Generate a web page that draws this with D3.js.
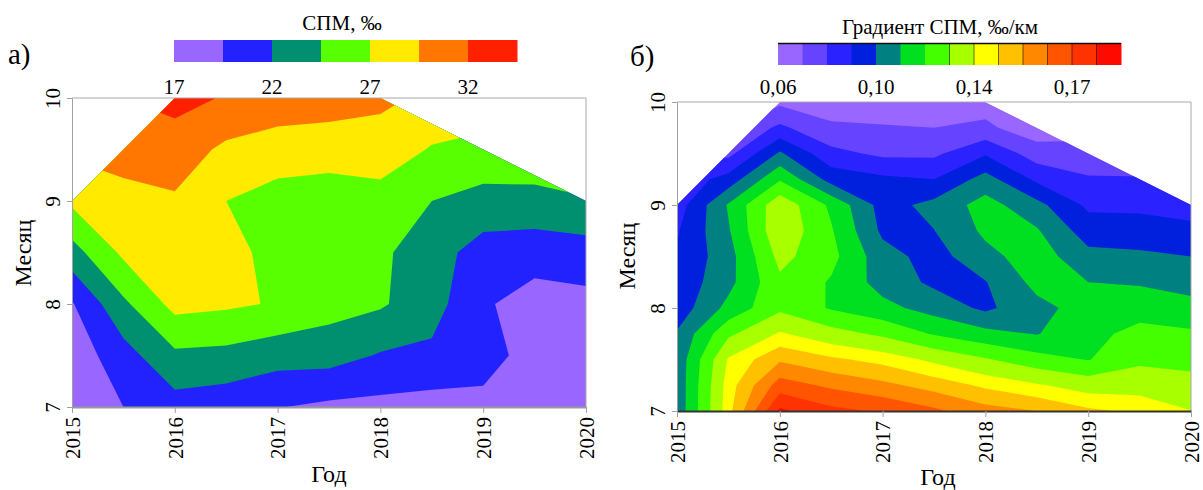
<!DOCTYPE html>
<html>
<head>
<meta charset="utf-8">
<script src="https://cdn.jsdelivr.net/npm/d3@7"></script>
<style>
  body { margin: 0; background: #fff; }
  svg { display: block; }
  text { font-family: "Liberation Serif", "Times New Roman", serif; fill: #000; }
</style>
</head>
<body>
<svg id="chart" width="1203" height="490"></svg>
<script>
// ---- shared axes ----
const gridYears = [2015, 2015.5, 2016, 2016.5, 2017, 2017.5, 2018, 2018.5, 2019, 2019.5, 2020];
const yearTicks = [2015, 2016, 2017, 2018, 2019, 2020];
const monthTicks = [7, 8, 9, 10];
// area covered by observations (year, month)
const coverage = [[2015, 7], [2015, 9], [2016, 10], [2018, 10], [2020, 9], [2020, 7]];

// ---- panel а: salinity, ‰ ----
const spmMonths = [10, 9.5, 9, 8.5, 8, 7.5, 7];
const spmGrid = [
  [31.0, 32.0, 32.8, 31.8, 31.0, 30.8, 30.0, 29.0, 28.0, 27.0, 26.0],
  [30.0, 30.5, 30.8, 29.0, 28.3, 28.0, 28.4, 26.8, 26.5, 26.0, 25.5],
  [27.5, 28.7, 29.2, 27.0, 26.0, 25.8, 26.0, 24.5, 23.5, 23.8, 24.4],
  [23.5, 27.5, 28.5, 27.8, 26.2, 26.0, 25.0, 23.0, 21.0, 20.5, 20.8],
  [19.3, 24.0, 27.8, 27.4, 26.8, 25.5, 24.8, 23.0, 19.8, 18.5, 18.8],
  [18.0, 21.0, 24.0, 23.8, 23.0, 23.0, 21.8, 21.5, 20.5, 18.5, 18.0],
  [17.5, 19.5, 21.0, 20.5, 19.6, 19.0, 18.8, 18.5, 18.8, 18.0, 17.5]
];
const spmLevels = [17, 19.5, 22, 24.5, 27, 29.5, 32, 34.5];
const spmColors = ["#9966ff", "#2222ff", "#009070", "#58ff00", "#ffea00", "#ff7700", "#ff2000"];
const spmTickIndex = [0, 2, 4, 6];

// ---- panel б: salinity gradient, ‰/км ----
const gradMonths = [10, 9.75, 9.5, 9.25, 9, 8.75, 8.5, 8.25, 8, 7.75, 7.5, 7.25, 7];
const gradGrid = [
  [0.070, 0.065, 0.068, 0.064, 0.063, 0.062, 0.066, 0.063, 0.060, 0.058, 0.055],
  [0.075, 0.070, 0.082, 0.072, 0.071, 0.070, 0.072, 0.064, 0.066, 0.064, 0.062],
  [0.080, 0.077, 0.1015, 0.083, 0.078, 0.078, 0.089, 0.075, 0.074, 0.072, 0.070],
  [0.083, 0.094, 0.119, 0.096, 0.092, 0.090, 0.104, 0.088, 0.081, 0.081, 0.078],
  [0.085, 0.111, 0.137, 0.118, 0.096, 0.103, 0.114, 0.103, 0.088, 0.088, 0.085],
  [0.089, 0.109, 0.138, 0.121, 0.098, 0.0998, 0.112, 0.111, 0.095, 0.094, 0.093],
  [0.091, 0.106, 0.133, 0.123, 0.104, 0.096, 0.107, 0.115, 0.103, 0.102, 0.100],
  [0.093, 0.107, 0.128, 0.119, 0.106, 0.098, 0.0995, 0.113, 0.110, 0.109, 0.106],
  [0.094, 0.113, 0.128, 0.119, 0.113, 0.106, 0.098, 0.107, 0.114, 0.116, 0.1135],
  [0.101, 0.128, 0.141, 0.134, 0.128, 0.119, 0.113, 0.1095, 0.117, 0.123, 0.1215],
  [0.103, 0.141, 0.154, 0.149, 0.145, 0.138, 0.131, 0.124, 0.1195, 0.128, 0.127],
  [0.103, 0.144, 0.166, 0.161, 0.157, 0.152, 0.146, 0.141, 0.136, 0.136, 0.1335],
  [0.103, 0.145, 0.179, 0.172, 0.169, 0.164, 0.158, 0.155, 0.149, 0.146, 0.1402]
];
const gradLevels = [0.06, 0.07, 0.08, 0.09, 0.10, 0.11, 0.12, 0.13, 0.14, 0.1475, 0.155, 0.1625, 0.17, 0.1775, 0.185];
const gradColors = ["#9966ff", "#6644ff", "#2a22ff", "#0020dd", "#008080", "#00e020",
                    "#44ff00", "#a8ff00", "#ffff00", "#ffc000", "#ff8800", "#ff5500", "#ff3300", "#ff0a00"];
const gradTickIndex = [0, 4, 8, 12];

const svg = d3.select("#chart");
const commaFmt = d3.formatLocale({ decimal: ",", thousands: " ", grouping: [3], currency: ["", ""] }).format(".2f");

function drawColorbar(cb) {
  const g = svg.append("g");
  const xi = d3.scaleLinear().domain([0, cb.colors.length]).range([cb.left, cb.right]);
  g.selectAll("rect").data(cb.colors).join("rect")
    .attr("x", (d, i) => xi(i)).attr("y", cb.top)
    .attr("width", (d, i) => xi(i + 1) - xi(i) + 0.5).attr("height", cb.height)
    .attr("fill", d => d);
  if (cb.separatorsFrom != null) {
    g.selectAll("line.sep").data(d3.range(cb.separatorsFrom, cb.colors.length)).join("line")
      .attr("x1", i => xi(i)).attr("x2", i => xi(i))
      .attr("y1", cb.top).attr("y2", cb.top + cb.height)
      .attr("stroke", "rgba(0,0,0,0.55)").attr("stroke-width", 1);
    g.append("line").attr("x1", xi(0)).attr("x2", xi(cb.colors.length))
      .attr("y1", cb.top + 0.5).attr("y2", cb.top + 0.5)
      .attr("stroke", "#111").attr("stroke-width", 1.5);
  }
  g.selectAll("text.tick").data(cb.tickIndex).join("text")
    .attr("x", i => xi(i)).attr("y", cb.labelY)
    .attr("text-anchor", "middle").style("font-size", "21px")
    .text(i => cb.format(cb.levels[i]));
  g.append("text").attr("x", cb.titleX).attr("y", cb.titleY)
    .attr("text-anchor", "middle").style("font-size", "21px").text(cb.title);
}

function drawPanel(p) {
  const g = svg.append("g");
  const x = d3.scaleLinear().domain(d3.extent(yearTicks)).range([p.left, p.right]);
  const y = d3.scaleLinear().domain(d3.extent(monthTicks)).range([p.bottom, p.top]);
  const nx = gridYears.length, ny = p.months.length;
  // grid index space -> data space (d3.contours puts sample i at i + 0.5)
  const gx = d3.scaleLinear().domain([0.5, nx - 0.5]).range([gridYears[0], gridYears[nx - 1]]);
  const gy = d3.scaleLinear().domain([0.5, ny - 0.5]).range([p.months[0], p.months[ny - 1]]);
  const proj = d3.geoTransform({ point(px, py) { this.stream.point(x(gx(px)), y(gy(py))); } });
  const path = d3.geoPath(proj);

  const pts = coverage.map(([yr, m]) => [x(yr), y(m)]).join(" ");
  g.append("clipPath").attr("id", p.id + "-clip").append("polygon").attr("points", pts);
  const body = g.append("g").attr("clip-path", `url(#${p.id}-clip)`);
  body.append("polygon").attr("points", pts).attr("fill", p.colors[0]);
  const bands = d3.contours().size([nx, ny])
    .thresholds(p.levels.slice(1, p.colors.length))(p.grid.flat());
  body.selectAll("path").data(bands).join("path")
    .attr("d", path).attr("fill", (d, i) => p.colors[i + 1]);

  // frame
  g.append("line").attr("x1", x(2015)).attr("x2", x(2020)).attr("y1", y(10)).attr("y2", y(10))
    .attr("stroke", "#a8a8a8").attr("stroke-width", 1);
  g.append("line").attr("x1", x(2020)).attr("x2", x(2020)).attr("y1", y(10)).attr("y2", y(7))
    .attr("stroke", "#a8a8a8").attr("stroke-width", 1);

  const ax = g.append("g").attr("transform", `translate(0,${p.bottom})`)
    .call(d3.axisBottom(x).tickValues(yearTicks).tickSize(6).tickSizeOuter(0).tickFormat(d3.format("d")))
    .attr("font-size", null).attr("font-family", null);
  ax.select(".domain").attr("stroke", p.bottomAxis).attr("stroke-width", 2);
  ax.selectAll(".tick line").attr("stroke", "#a0a0a0");
  ax.selectAll(".tick text").attr("transform", "rotate(-90)")
    .attr("x", -10).attr("y", 0).attr("dy", "0.35em").attr("text-anchor", "end")
    .style("font-size", "21px");

  const ay = g.append("g").attr("transform", `translate(${p.left},0)`)
    .call(d3.axisLeft(y).tickValues(monthTicks).tickSize(5).tickSizeOuter(0).tickFormat(d3.format("d")))
    .attr("font-size", null).attr("font-family", null);
  ay.select(".domain").attr("stroke", "#a0a0a0").attr("stroke-width", 1);
  ay.selectAll(".tick line").attr("stroke", "#a0a0a0");
  ay.selectAll(".tick text").attr("transform", "rotate(-90)")
    .attr("x", 0).attr("y", -12).attr("dy", null).attr("text-anchor", "middle")
    .style("font-size", "21px");

  g.append("text").attr("transform", `translate(${p.yLabelX},${p.yLabelY}) rotate(-90)`)
    .attr("text-anchor", "middle").style("font-size", "24px").text("Месяц");
  g.append("text").attr("x", p.xLabelX).attr("y", p.xLabelY)
    .attr("text-anchor", "middle").style("font-size", "24px").text("Год");
  g.append("text").attr("x", p.tagX).attr("y", p.tagY).style("font-size", "29px").text(p.tag);
}

drawPanel({ id: "spm", left: 72, right: 586, top: 98, bottom: 407, months: spmMonths, grid: spmGrid,
  levels: spmLevels, colors: spmColors, bottomAxis: "#9a9a9a",
  yLabelX: 31, yLabelY: 253, xLabelX: 329, xLabelY: 482, tag: "а)", tagX: 8, tagY: 64 });
drawColorbar({ left: 174, right: 517, top: 40, height: 22, colors: spmColors, levels: spmLevels,
  tickIndex: spmTickIndex, format: d3.format("d"), labelY: 94,
  title: "СПМ, ‰", titleX: 342, titleY: 30 });

drawPanel({ id: "grad", left: 677, right: 1191, top: 102, bottom: 411, months: gradMonths, grid: gradGrid,
  levels: gradLevels, colors: gradColors, bottomAxis: "#333",
  yLabelX: 635, yLabelY: 256, xLabelX: 938, xLabelY: 485, tag: "б)", tagX: 630, tagY: 66 });
drawColorbar({ left: 778, right: 1121, top: 43, height: 22, colors: gradColors, levels: gradLevels,
  tickIndex: gradTickIndex, format: commaFmt, labelY: 94, separatorsFrom: 7,
  title: "Градиент СПМ, ‰/км", titleX: 940, titleY: 34 });
</script>
</body>
</html>
